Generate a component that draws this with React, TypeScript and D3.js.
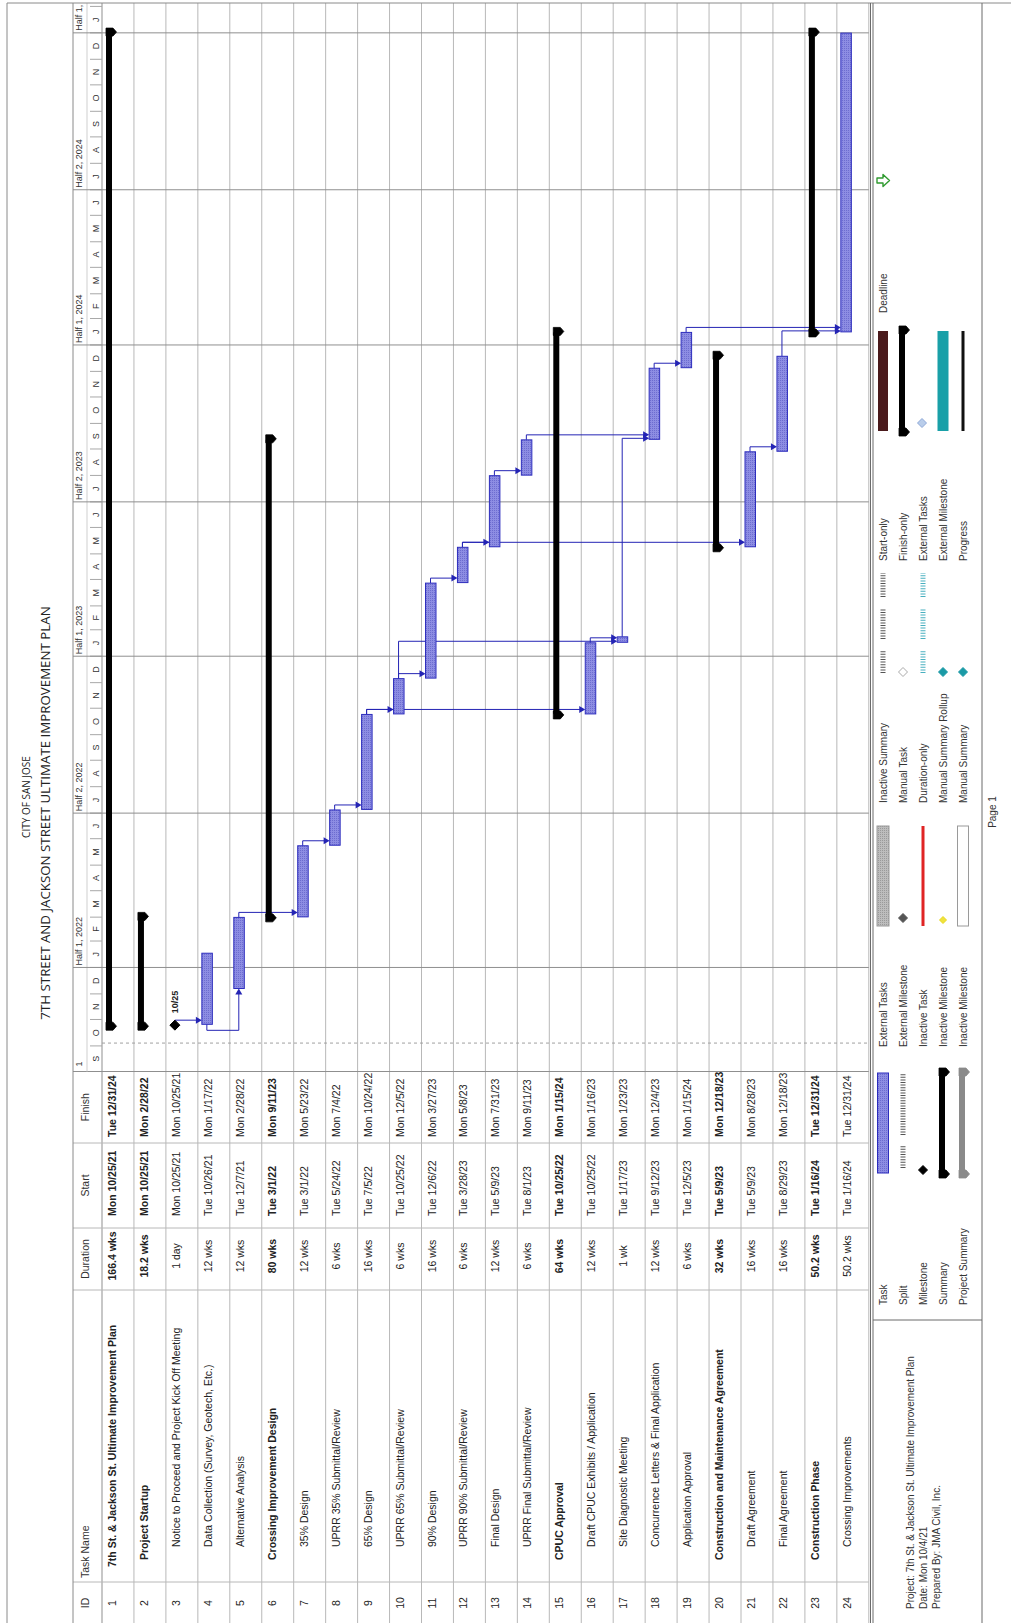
import React from "react";
import * as d3 from "d3";

// ---------------- DATA ----------------
const TASK_IDS = [1, 2, 3, 4, 5, 6, 7, 8, 9, 10, 11, 12, 13, 14, 15, 16, 17, 18, 19, 20, 21, 22, 23, 24];
const TASK_NAMES = [
  "7th St. & Jackson St. Ultimate Improvement Plan",
  "Project Startup",
  "Notice to Proceed and Project Kick Off Meeting",
  "Data Collection (Survey, Geotech, Etc.)",
  "Alternative Analysis",
  "Crossing Improvement Design",
  "35% Design",
  "UPRR 35% Submittal/Review",
  "65% Design",
  "UPRR 65% Submittal/Review",
  "90% Design",
  "UPRR 90% Submittal/Review",
  "Final Design",
  "UPRR Final Submittal/Review",
  "CPUC Approval",
  "Draft CPUC Exhibits / Application",
  "Site Diagnostic Meeting",
  "Concurrence Letters & Final Application",
  "Application Approval",
  "Construction and Maintenance Agreement",
  "Draft Agreement",
  "Final Agreement",
  "Construction Phase",
  "Crossing Improvements",
];
const DURATIONS = [
  "166.4 wks", "18.2 wks", "1 day", "12 wks", "12 wks", "80 wks", "12 wks", "6 wks", "16 wks", "6 wks",
  "16 wks", "6 wks", "12 wks", "6 wks", "64 wks", "12 wks", "1 wk", "12 wks", "6 wks", "32 wks",
  "16 wks", "16 wks", "50.2 wks", "50.2 wks",
];
const START_TEXT = [
  "Mon 10/25/21", "Mon 10/25/21", "Mon 10/25/21", "Tue 10/26/21", "Tue 12/7/21", "Tue 3/1/22", "Tue 3/1/22",
  "Tue 5/24/22", "Tue 7/5/22", "Tue 10/25/22", "Tue 12/6/22", "Tue 3/28/23", "Tue 5/9/23", "Tue 8/1/23",
  "Tue 10/25/22", "Tue 10/25/22", "Tue 1/17/23", "Tue 9/12/23", "Tue 12/5/23", "Tue 5/9/23", "Tue 5/9/23",
  "Tue 8/29/23", "Tue 1/16/24", "Tue 1/16/24",
];
const FINISH_TEXT = [
  "Tue 12/31/24", "Mon 2/28/22", "Mon 10/25/21", "Mon 1/17/22", "Mon 2/28/22", "Mon 9/11/23", "Mon 5/23/22",
  "Mon 7/4/22", "Mon 10/24/22", "Mon 12/5/22", "Mon 3/27/23", "Mon 5/8/23", "Mon 7/31/23", "Mon 9/11/23",
  "Mon 1/15/24", "Mon 1/16/23", "Mon 1/23/23", "Mon 12/4/23", "Mon 1/15/24", "Mon 12/18/23", "Mon 8/28/23",
  "Mon 12/18/23", "Tue 12/31/24", "Tue 12/31/24",
];
const TASK_KIND = [
  "summary", "summary", "milestone", "task", "task", "summary", "task", "task", "task", "task", "task", "task",
  "task", "task", "summary", "task", "task", "task", "task", "summary", "task", "task", "summary", "task",
];
const OUTLINE_LEVEL = [0, 1, 2, 2, 2, 1, 2, 2, 2, 2, 2, 2, 2, 2, 1, 2, 2, 2, 2, 1, 2, 2, 1, 2];
const LINK_FROM = [3, 4, 5, 7, 8, 9, 9, 10, 10, 11, 12, 12, 13, 14, 16, 17, 18, 19, 21, 22];
const LINK_TO = [4, 5, 7, 8, 9, 10, 16, 11, 17, 12, 13, 21, 14, 18, 17, 18, 19, 24, 22, 24];
const LINK_TYPE = ["FS", "SS", "FS", "FS", "FS", "FS", "FS", "FS", "FS", "FS", "FS", "FS", "FS", "FS", "FS", "FS", "FS", "FS", "FS", "FS"];
const STATUS_DATE = "Mon 10/4/21";
const TIMELINE = ["2021-09-01", "2025-02-05"];
const TITLE_LINES = ["CITY OF SAN JOSE", "7TH STREET AND JACKSON STREET ULTIMATE IMPROVEMENT PLAN"];
const COLUMN_HEADERS = ["ID", "Task Name", "Duration", "Start", "Finish"];
const PROJECT_INFO = [
  "Project: 7th St. & Jackson St. Ultimate Improvement Plan",
  "Date: Mon 10/4/21",
  "Prepared By:  JMA Civil, Inc.",
];
const LEGEND_COLUMNS = [
  ["Task", "Split", "Milestone", "Summary", "Project Summary"],
  ["External Tasks", "External Milestone", "Inactive Task", "Inactive Milestone", "Inactive Milestone"],
  ["Inactive Summary", "Manual Task", "Duration-only", "Manual Summary Rollup", "Manual Summary"],
  ["Start-only", "Finish-only", "External Tasks", "External Milestone", "Progress"],
  ["Deadline"],
];
const PAGE_LABEL = "Page 1";

// ---------------- LAYOUT (landscape coordinates) ----------------
const W = 1011;
const H = 1623;
const FRAME_Y0 = 7;
const HEADER_TOP = 73;
const TIER_SPLIT = 87;
const ROW_Y0 = 102;
const ROW_H = 31.95;
const COL_X = [0, 41, 333, 395, 480, 551.5];
const GANTT_X1 = 1620;
const LEGEND_Y0 = 870.5;
const LEGEND_Y1 = 982;
const LEGEND_SPLIT_X = 303;
const INDENT = [56, 63, 76];
const START_TEXT_X = 407;
const FINISH_TEXT_X = 486;
const DUR_CENTER_X = 367;
const LEGEND_LABEL_X = [318, 576, 820, 1062, 1310];
const LEGEND_ROW_Y = [883, 903, 923, 943, 963];

const TASK_FILL = "url(#taskHatch)";
const TASK_STROKE = "#2d2dbd";
const LINK_COLOR = "#2424b4";
const GRID = "#b8b8b8";
const DARK_GRID = "#8f8f8f";
const TABLE_FONT = "'Liberation Sans', Arial, sans-serif";
const TITLE_FONT = "'Open Sans', 'DejaVu Sans', sans-serif";

function summaryBar(x1: number, x2: number, top: number, color: string, key: string) {
  const capS = `M${x1 - 5},${top} H${x1 + 3} V${top + 7} L${x1 - 1},${top + 10.5} L${x1 - 5},${top + 7} Z`;
  const capE = `M${x2 - 3},${top} H${x2 + 5} V${top + 7} L${x2 + 1},${top + 10.5} L${x2 - 3},${top + 7} Z`;
  return (
    <g key={key}>
      <rect x={x1} y={top} width={Math.max(0, x2 - x1)} height={6} fill={color} />
      <path d={capS} fill={color} strokeLinejoin="round" stroke={color} strokeWidth={0.8} />
      <path d={capE} fill={color} strokeLinejoin="round" stroke={color} strokeWidth={0.8} />
    </g>
  );
}

function diamond(cx: number, cy: number, r: number, fill: string, stroke: string, key: string) {
  return (
    <path
      key={key}
      d={`M${cx},${cy - r} L${cx + r},${cy} L${cx},${cy + r} L${cx - r},${cy} Z`}
      fill={fill}
      stroke={stroke}
      strokeWidth={1}
    />
  );
}

function dots(x1: number, x2: number, y: number, color: string, key: string) {
  return (
    <line key={key} x1={x1} x2={x2} y1={y} y2={y} stroke={color} strokeWidth={5} strokeDasharray="1 1.6" />
  );
}

export default function App() {
  const parse = d3.timeParse("%a %m/%d/%y");
  const iso = d3.timeParse("%Y-%m-%d");
  const starts = START_TEXT.map((s) => d3.timeHour.offset(parse(s) as Date, 8));
  const finishes = FINISH_TEXT.map((s) => d3.timeHour.offset(parse(s) as Date, 17));
  const x = d3
    .scaleTime()
    .domain([iso(TIMELINE[0]) as Date, iso(TIMELINE[1]) as Date])
    .range([COL_X[5], GANTT_X1]);
  const rowTop = (i: number) => ROW_Y0 + i * ROW_H;
  const idx = (id: number) => TASK_IDS.indexOf(id);
  const statusX = x(d3.timeHour.offset(parse(STATUS_DATE) as Date, 8));

  const months = d3.timeMonth.range(x.domain()[0], x.domain()[1]);
  const monthEnds = d3.timeMonth.range(d3.timeMonth.offset(x.domain()[0], 1), x.domain()[1]);
  const halfStarts = d3.timeMonth
    .range(new Date(2021, 6, 1), x.domain()[1])
    .filter((d) => d.getMonth() % 6 === 0);
  const monthLetter = (d: Date) => d3.timeFormat("%b")(d).charAt(0);
  const halfLabel = (d: Date) => `Half ${d.getMonth() < 6 ? 1 : 2}, ${d.getFullYear()}`;

  const tableBottom = rowTop(TASK_IDS.length);
  const msFmt = d3.timeFormat("%-m/%-d");

  // links
  const links = LINK_FROM.map((from, k) => {
    const p = idx(from);
    const s = idx(LINK_TO[k]);
    const py = rowTop(p) + 9;
    if (LINK_TYPE[k] === "SS") {
      const px = x(starts[p]);
      const sx = x(starts[s]);
      const sy = rowTop(s) + 9;
      return (
        <g key={`l${k}`}>
          <path d={`M${px},${py} H${px - 6} V${sy} H${sx - 5}`} fill="none" stroke={LINK_COLOR} strokeWidth={1} strokeLinejoin="round" />
          <path d={`M${sx},${sy} L${sx - 6},${sy - 3.5} L${sx - 6},${sy + 3.5} Z`} fill={LINK_COLOR} />
        </g>
      );
    }
    const px = TASK_KIND[p] === "milestone" ? x(starts[p]) : x(finishes[p]);
    const sx = x(starts[s]);
    const level = Math.max(px + 5, sx + 1);
    const sTop = rowTop(s) + 4;
    return (
      <g key={`l${k}`}>
        <path d={`M${px},${py} H${level} V${sTop - 5}`} fill="none" stroke={LINK_COLOR} strokeWidth={1} strokeLinejoin="round" />
        <path d={`M${level},${sTop} L${level - 3.5},${sTop - 6} L${level + 3.5},${sTop - 6} Z`} fill={LINK_COLOR} />
      </g>
    );
  });

  const firstHalf = halfStarts[0];

  return (
    <svg
      width={W}
      height={H}
      style={{ position: "absolute", left: 0, top: 0, background: "#fff" }}
      xmlns="http://www.w3.org/2000/svg"
    >
      <defs>
        <pattern id="taskHatch" width={2} height={2} patternUnits="userSpaceOnUse">
          <rect width={2} height={2} fill="#8d8de3" />
          <rect width={1} height={1} fill="#6d6dcf" />
        </pattern>
        <pattern id="grayHatch" width={2} height={2} patternUnits="userSpaceOnUse">
          <rect width={2} height={2} fill="#bdbdbd" />
          <rect width={1} height={1} fill="#9a9a9a" />
        </pattern>
        <clipPath id="ganttClip">
          <rect x={COL_X[5]} y={HEADER_TOP} width={GANTT_X1 - COL_X[5]} height={tableBottom - HEADER_TOP} />
        </clipPath>
        <clipPath id="firstHalfClip">
          <rect x={556} y={HEADER_TOP} width={40} height={TIER_SPLIT - HEADER_TOP} />
        </clipPath>
      </defs>
      <rect x={0} y={0} width={W} height={H} fill="#fff" />
      <g transform={`translate(0,${H}) rotate(-90)`}>
        {/* Title */}
        <text x={826} y={29.5} textAnchor="middle" fontFamily={TITLE_FONT} fontSize={10} fill="#222">
          {TITLE_LINES[0]}
        </text>
        <text x={810} y={50} textAnchor="middle" fontFamily={TITLE_FONT} fontSize={13.3} fill="#222">
          {TITLE_LINES[1]}
        </text>

        {/* Row grid lines */}
        {TASK_IDS.map((_, i) => (
          <line key={`rg${i}`} x1={0} x2={GANTT_X1} y1={rowTop(i + 1)} y2={rowTop(i + 1)} stroke={GRID} strokeWidth={1} />
        ))}
        <line x1={0} x2={GANTT_X1} y1={ROW_Y0} y2={ROW_Y0} stroke={DARK_GRID} strokeWidth={1} />
        {/* table column lines */}
        {COL_X.slice(1).map((cx, i) => (
          <line key={`cl${i}`} x1={cx} x2={cx} y1={HEADER_TOP} y2={tableBottom} stroke={i === 4 ? DARK_GRID : GRID} strokeWidth={1} />
        ))}

        {/* Column headers */}
        <g fontFamily={TABLE_FONT} fontSize={10.5} fill="#333">
          <text x={20} y={89} textAnchor="middle">{COLUMN_HEADERS[0]}</text>
          <text x={45} y={89}>{COLUMN_HEADERS[1]}</text>
          <text x={(COL_X[2] + COL_X[3]) / 2} y={89} textAnchor="middle">{COLUMN_HEADERS[2]}</text>
          <text x={(COL_X[3] + COL_X[4]) / 2} y={89} textAnchor="middle">{COLUMN_HEADERS[3]}</text>
          <text x={(COL_X[4] + COL_X[5]) / 2} y={89} textAnchor="middle">{COLUMN_HEADERS[4]}</text>
        </g>

        {/* Table rows */}
        <g fontFamily={TABLE_FONT} fontSize={10.5} fill="#222">
          {TASK_IDS.map((id, i) => {
            const bold = TASK_KIND[i] === "summary";
            const base = rowTop(i) + 14;
            return (
              <g key={`tr${i}`} fontWeight={bold ? "bold" : "normal"}>
                <text x={20} y={base} textAnchor="middle" fontWeight="normal">{id}</text>
                <text x={INDENT[OUTLINE_LEVEL[i]]} y={base}>{TASK_NAMES[i]}</text>
                <text x={DUR_CENTER_X} y={base} textAnchor="middle">{DURATIONS[i]}</text>
                <text x={START_TEXT_X} y={base}>{START_TEXT[i]}</text>
                <text x={FINISH_TEXT_X} y={base}>{FINISH_TEXT[i]}</text>
              </g>
            );
          })}
        </g>

        {/* Timescale header */}
        <line x1={COL_X[5]} x2={GANTT_X1} y1={TIER_SPLIT} y2={TIER_SPLIT} stroke="#cfcfcf" strokeWidth={1} />
        <g fontFamily={TABLE_FONT} fontSize={9} fill="#333">
          {months.map((m, i) => {
            const cx = (x(m) + x(d3.timeMonth.offset(m, 1))) / 2;
            if (cx > GANTT_X1 - 3) return null;
            return (
              <text key={`m${i}`} x={cx} y={99} textAnchor="middle">{monthLetter(m)}</text>
            );
          })}
          {halfStarts.map((h, i) =>
            i === 0 ? (
              <text key={`h${i}`} x={561.5} y={82} textAnchor="end" clipPath="url(#firstHalfClip)">{halfLabel(firstHalf)}</text>
            ) : (
              <text key={`h${i}`} x={x(h) + 2} y={82} clipPath="url(#ganttClip)">{halfLabel(h)}</text>
            )
          )}
        </g>
        {monthEnds.map((m, i) => (
          <line key={`mt${i}`} x1={x(m)} x2={x(m)} y1={90} y2={102} stroke="#a8a8a8" strokeWidth={1} />
        ))}
        {halfStarts.slice(1).map((h, i) => (
          <line key={`hl${i}`} x1={x(h)} x2={x(h)} y1={HEADER_TOP} y2={tableBottom} stroke={DARK_GRID} strokeWidth={1} />
        ))}
        {/* status date */}
        <line x1={statusX} x2={statusX} y1={ROW_Y0} y2={tableBottom} stroke="#a0a0a0" strokeWidth={1} strokeDasharray="3 3" />

        {/* Bars */}
        <g clipPath="url(#ganttClip)">
          {links}
          {TASK_IDS.map((id, i) => {
            const top = rowTop(i);
            const x1 = x(starts[i]);
            const x2 = x(finishes[i]);
            if (TASK_KIND[i] === "summary") return summaryBar(x1, x2, top + 4, "#000", `b${i}`);
            if (TASK_KIND[i] === "milestone")
              return (
                <g key={`b${i}`}>
                  {diamond(x1, top + 9, 5, "#000", "#000", `d${i}`)}
                  <text x={x1 + 12} y={top + 12.5} fontFamily={TABLE_FONT} fontSize={9} fontWeight="bold" fill="#222">
                    {msFmt(starts[i])}
                  </text>
                </g>
              );
            return (
              <rect key={`b${i}`} x={x1} y={top + 4} width={x2 - x1} height={10.5} fill={TASK_FILL} stroke={TASK_STROKE} strokeWidth={1} />
            );
          })}
        </g>

        {/* Frame */}
        <line x1={0} x2={GANTT_X1} y1={FRAME_Y0} y2={FRAME_Y0} stroke="#8a8a8a" strokeWidth={1} />
        <line x1={0} x2={GANTT_X1} y1={HEADER_TOP} y2={HEADER_TOP} stroke="#8a8a8a" strokeWidth={1} />
        <line x1={GANTT_X1} x2={GANTT_X1} y1={FRAME_Y0} y2={W} stroke="#8a8a8a" strokeWidth={1} />
        <line x1={0} x2={GANTT_X1} y1={LEGEND_Y0} y2={LEGEND_Y0} stroke="#6a6a6a" strokeWidth={1} />
        <line x1={0} x2={GANTT_X1} y1={LEGEND_Y0 + 2.5} y2={LEGEND_Y0 + 2.5} stroke="#6a6a6a" strokeWidth={1} />
        <line x1={0} x2={GANTT_X1} y1={LEGEND_Y1} y2={LEGEND_Y1} stroke="#6a6a6a" strokeWidth={1} />
        <line x1={LEGEND_SPLIT_X} x2={LEGEND_SPLIT_X} y1={LEGEND_Y0 + 2.5} y2={LEGEND_Y1} stroke="#6a6a6a" strokeWidth={1} />

        {/* Project info */}
        <g fontFamily={TABLE_FONT} fontSize={10} fill="#333">
          {PROJECT_INFO.map((t, i) => (
            <text key={`pi${i}`} x={14} y={913.5 + i * 13}>{t}</text>
          ))}
        </g>

        {/* Legend labels */}
        <g fontFamily={TABLE_FONT} fontSize={10} fill="#333">
          {LEGEND_COLUMNS.map((col, c) =>
            col.map((t, r) => (
              <text key={`lg${c}-${r}`} x={LEGEND_LABEL_X[c]} y={LEGEND_ROW_Y[r] + 3.5}>{t}</text>
            ))
          )}
        </g>

        {/* Legend symbols */}
        {(() => {
          const s1 = LEGEND_LABEL_X[0] + 132;
          const s2 = LEGEND_LABEL_X[1] + 121;
          const s3 = LEGEND_LABEL_X[2] + 130;
          const s4 = LEGEND_LABEL_X[3] + 130;
          const L = 100;
          const R = LEGEND_ROW_Y;
          return (
            <g>
              {/* column 1 */}
              <rect x={s1} y={R[0] - 5.5} width={L} height={11} fill={TASK_FILL} stroke={TASK_STROKE} />
              {dots(s1 + 5, s1 + 28, R[1], "#555", "sp1")}
              {dots(s1 + 38, s1 + L, R[1], "#555", "sp2")}
              {diamond(s1 + 3, R[2], 4.5, "#000", "#000", "ms")}
              {summaryBar(s1, s1 + L, R[3] - 4, "#000", "sum")}
              {summaryBar(s1, s1 + L, R[4] - 4, "#8a8a8a", "psum")}
              {/* column 2 */}
              <rect x={s2} y={R[0] - 6} width={L} height={12} fill="url(#grayHatch)" stroke="#9a9a9a" />
              {diamond(s2 + 8, R[1], 4.5, "#555", "#555", "extm")}
              <rect x={s2} y={R[2] - 1.5} width={L} height={3} fill="#e02424" />
              {diamond(s2 + 6, R[3], 3.5, "#f0e23c", "#e8d820", "inm")}
              <rect x={s2} y={R[4] - 5.5} width={L} height={11} fill="#fff" stroke="#9a9a9a" />
              {/* column 3 */}
              {dots(s3, s3 + 22, R[0], "#555", "is1")}
              {dots(s3 + 34, s3 + 64, R[0], "#555", "is2")}
              {dots(s3 + 76, s3 + L, R[0], "#555", "is3")}
              {diamond(s3 + 1, R[1], 4.5, "#fff", "#aaa", "mt")}
              {dots(s3, s3 + 22, R[2], "#48b0c0", "do1")}
              {dots(s3 + 34, s3 + 64, R[2], "#48b0c0", "do2")}
              {dots(s3 + 76, s3 + L, R[2], "#48b0c0", "do3")}
              {diamond(s3 + 1, R[3], 4.5, "#1a9aa6", "#1a9aa6", "msr")}
              {diamond(s3 + 1, R[4], 4.5, "#1a9aa6", "#1a9aa6", "msum")}
              {/* column 4 */}
              <rect x={s4} y={R[0] - 5} width={L} height={10} fill="#4a1a1c" />
              {summaryBar(s4, s4 + L, R[1] - 4, "#000", "fo")}
              {diamond(s4 + 8, R[2] - 1, 4.5, "#b9cdea", "#8fa9d8", "exm")}
              <rect x={s4} y={R[3] - 5.5} width={L} height={11} fill="#19a0a8" />
              <rect x={s4} y={R[4] - 1.5} width={L} height={3} fill="#111" />
              {/* deadline arrow */}
              <path
                d={`M1440,${R[0] - 6} h5 v6 h3.5 l-6,6.5 l-6,-6.5 h3.5 Z`}
                fill="#fff"
                stroke="#2f9a2f"
                strokeWidth={1.4}
                strokeLinejoin="round"
              />
            </g>
          );
        })()}

        {/* Page label */}
        <text x={811} y={996} textAnchor="middle" fontFamily={TABLE_FONT} fontSize={10} fill="#333">
          {PAGE_LABEL}
        </text>
      </g>
    </svg>
  );
}
